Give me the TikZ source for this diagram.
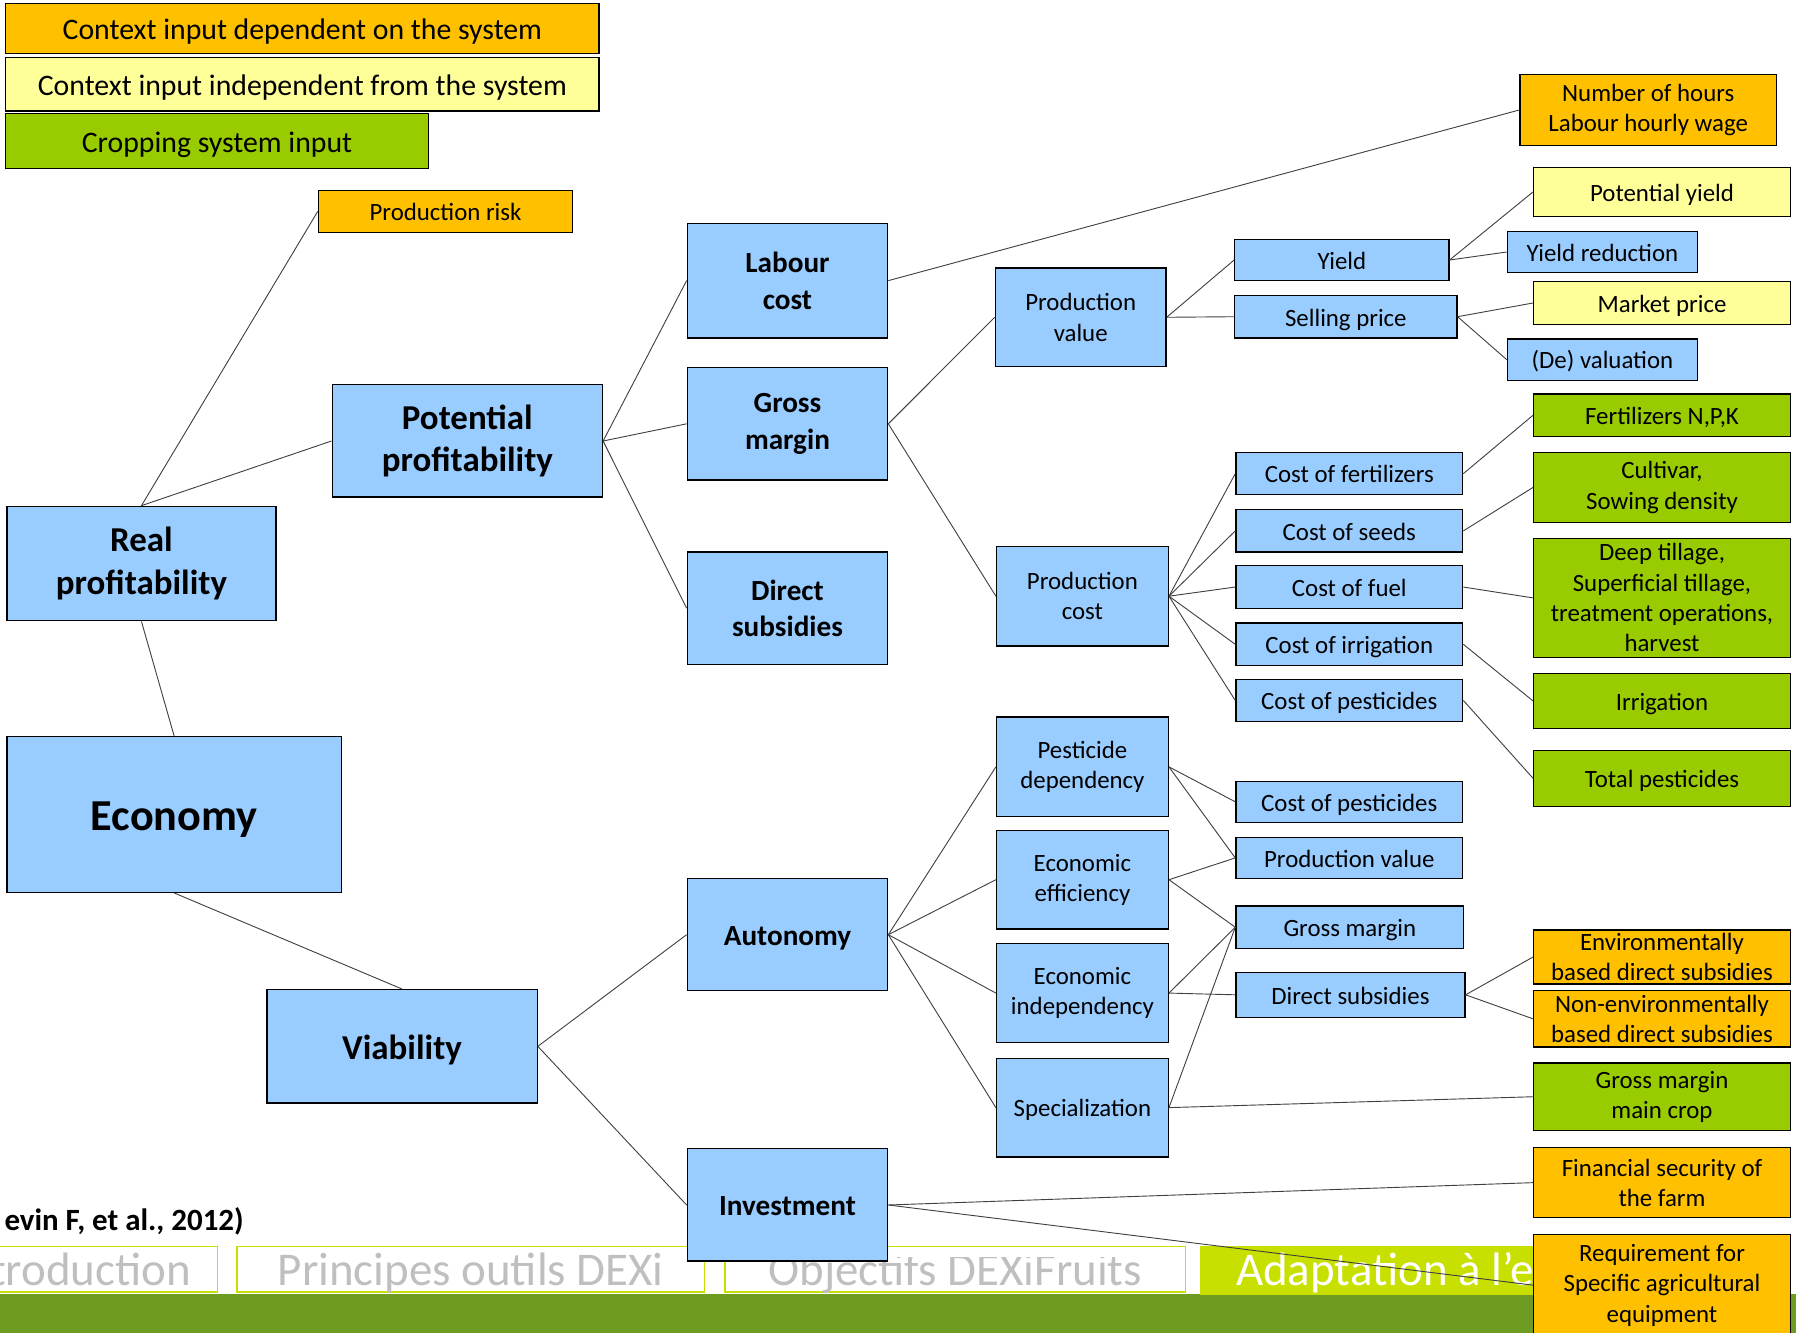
\documentclass[tikz,border=0pt]{standalone}
\usepackage{fontspec}
\setmainfont{Carlito}
\definecolor{ecoblue}{HTML}{99CCFF}
\definecolor{ecoorange}{HTML}{FFC000}
\definecolor{ecoyellow}{HTML}{FFFF99}
\definecolor{ecogreen}{HTML}{99CC00}
\definecolor{tabline}{HTML}{C8E000}
\definecolor{tabgray}{HTML}{BFBFBF}
\definecolor{bargreen}{HTML}{6E9C22}
\tikzset{
  crit/.style={draw=black, line width=1.1pt, rectangle, align=center, inner sep=0pt, text=black},
  oneline/.style={execute at begin node={\rule[-0.25em]{0pt}{1.25em}}},
  aggblue/.style={crit, fill=ecoblue},
  depinput/.style={crit, fill=ecoorange},
  indinput/.style={crit, fill=ecoyellow},
  cropinput/.style={crit, fill=ecogreen},
  toplabel/.style={font=\bfseries\fontsize{30.5}{37}\selectfont},
  midlabel/.style={font=\bfseries\fontsize{25.5}{32}\selectfont},
  leaflabel/.style={font=\fontsize{21.7}{26.5}\selectfont},
  legendlabel/.style={font=\fontsize{26}{32}\selectfont, oneline},
  link/.style={draw=black!75, line width=0.8pt},
  tabbox/.style={draw=tabline, line width=1.2pt, inner sep=0pt, minimum height=40pt},
  tablabel/.style={font=\fontsize{41}{48}\selectfont, text=tabgray, inner sep=0pt, anchor=base}
}
\begin{document}
\begin{tikzpicture}[x=1pt, y=-1pt]
\useasboundingbox (0,0) rectangle (1568,1163);
\fill[bargreen] (0,1130) rectangle (1568,1170);
\node[tabbox, minimum width=200pt] (tabone) at (90,1108) {};
\node[tablabel, anchor=base east] (tabonetext) at (167,1122) {troduction};
\node[tabbox, minimum width=408pt] (tabtwo) at (411,1108) {};
\node[tablabel] (tabtwotext) at (411,1122) {Principes outils DEXi};
\node[tabbox, minimum width=402pt] (tabthree) at (834,1108) {};
\begin{scope}
\clip (633,1098) rectangle (1035,1130);
\node[tablabel] (tabthreetext) at (834,1122) {Objectifs DEXiFruits};
\end{scope}
\node[tabbox, fill=tabline, minimum width=297pt, minimum height=42pt] (tabfour) at (1196.5,1109) {};
\node[tablabel, text=white, anchor=base west] (tabfourtext) at (1079,1122) {Adaptation à l’e};
\node[font=\bfseries\fontsize{27}{32}\selectfont, inner sep=0pt, anchor=base east] (citation) at (213,1074) {evin F, et al., 2012)};

\node[depinput, legendlabel, minimum width=518pt, minimum height=44pt] (legdep) at (264,25) {Context input dependent on the system};
\node[indinput, legendlabel, minimum width=518pt, minimum height=47pt] (legind) at (264,73.5) {Context input independent from the system};
\node[cropinput, legendlabel, minimum width=369pt, minimum height=48pt] (legcrop) at (189.5,123) {Cropping system input};

\node[aggblue, oneline, font=\bfseries\fontsize{38.6}{46}\selectfont, minimum width=292pt, minimum height=136pt] (economy) at (152,711) {Economy};
\node[aggblue, toplabel, minimum width=235pt, minimum height=100pt] (realprof) at (123.5,492) {Real\\profitability};
\node[aggblue, toplabel, minimum width=236pt, minimum height=98pt] (potprof) at (408,385) {Potential\\profitability};
\node[aggblue, toplabel, oneline, minimum width=236pt, minimum height=99pt] (viability) at (351,913.5) {Viability};
\node[depinput, leaflabel, oneline, minimum width=222pt, minimum height=37pt] (prodrisk) at (389,184.5) {Production risk};

\node[aggblue, midlabel, minimum width=175pt, minimum height=100pt] (labour) at (687.5,245) {Labour\\cost};
\node[aggblue, midlabel, minimum width=175pt, minimum height=98pt] (grossm) at (687.5,370) {Gross\\margin};
\node[aggblue, midlabel, minimum width=175pt, minimum height=98pt] (dirsub) at (687.5,531) {Direct\\subsidies};
\node[aggblue, midlabel, oneline, minimum width=175pt, minimum height=98pt] (autonomy) at (687.5,816) {Autonomy};
\node[aggblue, midlabel, oneline, minimum width=175pt, minimum height=98pt] (investment) at (687.5,1052) {Investment};

\node[aggblue, leaflabel, minimum width=149pt, minimum height=86pt] (prodval) at (943.5,277) {Production\\value};
\node[aggblue, leaflabel, minimum width=150pt, minimum height=87pt] (prodcost) at (945,520.5) {Production\\cost};
\node[aggblue, leaflabel, minimum width=150pt, minimum height=87pt] (pestdep) at (945,669.5) {Pesticide\\dependency};
\node[aggblue, leaflabel, minimum width=150pt, minimum height=86pt] (ecoeff) at (945,768) {Economic\\efficiency};
\node[aggblue, leaflabel, minimum width=150pt, minimum height=86pt] (ecoind) at (945,867) {Economic\\independency};
\node[aggblue, leaflabel, oneline, minimum width=150pt, minimum height=86pt] (special) at (945,967) {Specialization};

\node[aggblue, leaflabel, oneline, minimum width=187pt, minimum height=36pt] (yield) at (1171.5,227) {Yield};
\node[aggblue, leaflabel, oneline, minimum width=194pt, minimum height=37pt] (sellprice) at (1175,276.5) {Selling price};
\node[aggblue, leaflabel, oneline, minimum width=198pt, minimum height=37pt] (costfert) at (1178,413.5) {Cost of fertilizers};
\node[aggblue, leaflabel, oneline, minimum width=198pt, minimum height=37pt] (costseed) at (1178,463.5) {Cost of seeds};
\node[aggblue, leaflabel, oneline, minimum width=198pt, minimum height=37pt] (costfuel) at (1178,512.5) {Cost of fuel};
\node[aggblue, leaflabel, oneline, minimum width=198pt, minimum height=37pt] (costirr) at (1178,562.5) {Cost of irrigation};
\node[aggblue, leaflabel, oneline, minimum width=198pt, minimum height=37pt] (costpest) at (1178,611.5) {Cost of pesticides};
\node[aggblue, leaflabel, oneline, minimum width=198pt, minimum height=36pt] (costpestb) at (1178,700) {Cost of pesticides};
\node[aggblue, leaflabel, oneline, minimum width=198pt, minimum height=36pt] (prodvalb) at (1178,749) {Production value};
\node[aggblue, leaflabel, oneline, minimum width=199pt, minimum height=37pt] (grossmb) at (1178.5,809.5) {Gross margin};
\node[aggblue, leaflabel, oneline, minimum width=200pt, minimum height=39pt] (dirsubb) at (1179,868.5) {Direct subsidies};

\node[depinput, leaflabel, minimum width=224pt, minimum height=62pt] (hours) at (1439,96) {Number of hours\\Labour hourly wage};
\node[indinput, leaflabel, oneline, minimum width=224pt, minimum height=43pt] (potyield) at (1451,167.5) {Potential yield};
\node[aggblue, leaflabel, oneline, minimum width=166pt, minimum height=36pt] (yieldred) at (1399,220) {Yield reduction};
\node[indinput, leaflabel, oneline, minimum width=224pt, minimum height=37pt] (marketp) at (1451,264.5) {Market price};
\node[aggblue, leaflabel, oneline, minimum width=166pt, minimum height=36pt] (devalue) at (1399,314) {(De) valuation};
\node[cropinput, leaflabel, oneline, minimum width=224pt, minimum height=37pt] (fertnpk) at (1451,362.5) {Fertilizers N,P,K};
\node[cropinput, leaflabel, minimum width=224pt, minimum height=61pt] (cultivar) at (1451,425.5) {Cultivar,\\Sowing density};
\node[cropinput, leaflabel, minimum width=224pt, minimum height=104pt] (tillage) at (1451,522) {Deep tillage,\\Superficial tillage,\\treatment operations,\\harvest};
\node[cropinput, leaflabel, oneline, minimum width=224pt, minimum height=48pt] (irrigation) at (1451,612) {Irrigation};
\node[cropinput, leaflabel, oneline, minimum width=224pt, minimum height=49pt] (totpest) at (1451,679.5) {Total pesticides};
\node[depinput, leaflabel, minimum width=224pt, minimum height=47pt] (envsub) at (1451,835.5) {Environmentally\\based direct subsidies};
\node[depinput, leaflabel, minimum width=224pt, minimum height=49pt] (nonenvsub) at (1451,889.5) {Non-environmentally\\based direct subsidies};
\node[cropinput, leaflabel, minimum width=224pt, minimum height=59pt] (gmmain) at (1451,957.5) {Gross margin\\main crop};
\node[depinput, leaflabel, minimum width=224pt, minimum height=61pt] (finsec) at (1451,1032.5) {Financial security of\\the farm};
\node[depinput, leaflabel, minimum width=224pt, minimum height=88pt] (reqequip) at (1451,1122) {Requirement for\\Specific agricultural\\equipment};

\draw[link] (economy.north) -- (realprof.south);
\draw[link] (economy.south) -- (viability.north);
\draw[link] (realprof.north) -- (prodrisk.west);
\draw[link] (realprof.north) -- (potprof.west);
\draw[link] (potprof.east) -- (labour.west);
\draw[link] (potprof.east) -- (grossm.west);
\draw[link] (potprof.east) -- (dirsub.west);
\draw[link] (labour.east) -- (hours.west);
\draw[link] (grossm.east) -- (prodval.west);
\draw[link] (grossm.east) -- (prodcost.west);
\draw[link] (prodval.east) -- (yield.west);
\draw[link] (prodval.east) -- (sellprice.west);
\draw[link] (yield.east) -- (potyield.west);
\draw[link] (yield.east) -- (yieldred.west);
\draw[link] (sellprice.east) -- (marketp.west);
\draw[link] (sellprice.east) -- (devalue.west);
\draw[link] (prodcost.east) -- (costfert.west);
\draw[link] (prodcost.east) -- (costseed.west);
\draw[link] (prodcost.east) -- (costfuel.west);
\draw[link] (prodcost.east) -- (costirr.west);
\draw[link] (prodcost.east) -- (costpest.west);
\draw[link] (costfert.east) -- (fertnpk.west);
\draw[link] (costseed.east) -- (cultivar.west);
\draw[link] (costfuel.east) -- (tillage.west);
\draw[link] (costirr.east) -- (irrigation.west);
\draw[link] (costpest.east) -- (totpest.west);
\draw[link] (viability.east) -- (autonomy.west);
\draw[link] (viability.east) -- (investment.west);
\draw[link] (autonomy.east) -- (pestdep.west);
\draw[link] (autonomy.east) -- (ecoeff.west);
\draw[link] (autonomy.east) -- (ecoind.west);
\draw[link] (autonomy.east) -- (special.west);
\draw[link] (pestdep.east) -- (costpestb.west);
\draw[link] (pestdep.east) -- (prodvalb.west);
\draw[link] (ecoeff.east) -- (prodvalb.west);
\draw[link] (ecoeff.east) -- (grossmb.west);
\draw[link] (ecoind.east) -- (grossmb.west);
\draw[link] (ecoind.east) -- (dirsubb.west);
\draw[link] (special.east) -- (grossmb.west);
\draw[link] (special.east) -- (gmmain.west);
\draw[link] (dirsubb.east) -- (envsub.west);
\draw[link] (dirsubb.east) -- (nonenvsub.west);
\draw[link] (investment.east) -- (finsec.west);
\draw[link] (investment.east) -- (reqequip.west);
\end{tikzpicture}
\end{document}
